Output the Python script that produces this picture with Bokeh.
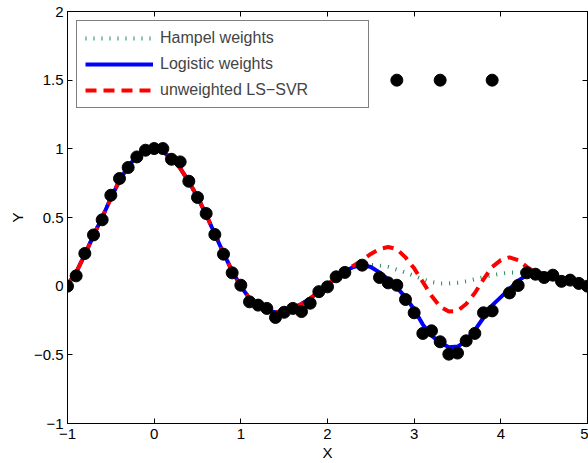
from bokeh.plotting import figure
from bokeh.models import LinearAxis, FixedTicker, Legend, LegendItem, CustomLabelingPolicy
from bokeh.embed import file_html
from bokeh.resources import INLINE

# ---------------- data ----------------
x_data = [-1.0, -0.9, -0.8, -0.7, -0.6, -0.5, -0.4, -0.3, -0.2, -0.1,
          0.0, 0.1, 0.2, 0.3, 0.4, 0.5, 0.6, 0.7, 0.8, 0.9,
          1.0, 1.1, 1.2, 1.3, 1.4, 1.5, 1.6, 1.7, 1.8, 1.9,
          2.0, 2.1, 2.2, 2.4, 2.6, 2.7, 2.8, 2.9,
          3.0, 3.1, 3.2, 3.3, 3.4, 3.5, 3.6, 3.7, 3.8, 3.9,
          4.1, 4.2, 4.3, 4.4, 4.5, 4.6, 4.7, 4.8, 4.9, 5.0]
y_data = [0.00, 0.075, 0.238, 0.373, 0.483, 0.662, 0.784, 0.864, 0.941, 0.990,
          1.002, 1.002, 0.924, 0.905, 0.764, 0.646, 0.529, 0.376, 0.233, 0.097,
          0.007, -0.114, -0.138, -0.162, -0.228, -0.19, -0.162, -0.185, -0.124, -0.04,
          -0.005, 0.068, 0.10, 0.153, 0.063, 0.024, 0.007, -0.097,
          -0.194, -0.344, -0.325, -0.405, -0.495, -0.487, -0.398, -0.344, -0.194, -0.18,
          -0.049, 0.005, 0.097, 0.087, 0.063, 0.08, 0.035, 0.044, 0.02, 0.0]

x_outliers = [2.8, 3.3, 3.9]
y_outliers = [1.5, 1.5, 1.5]

x_fit = [-1.0, -0.9, -0.8, -0.7, -0.6, -0.5, -0.4, -0.3, -0.2, -0.1,
         0.0, 0.1, 0.2, 0.3, 0.4, 0.5, 0.6, 0.7, 0.8, 0.9,
         1.0, 1.1, 1.2, 1.3, 1.4, 1.5, 1.6, 1.7, 1.8, 1.9,
         2.0, 2.1, 2.2, 2.3, 2.4, 2.5, 2.6, 2.7, 2.8, 2.9,
         3.0, 3.1, 3.2, 3.3, 3.4, 3.5, 3.6, 3.7, 3.8, 3.9,
         4.0, 4.1, 4.2, 4.3, 4.4, 4.5, 4.6, 4.7, 4.8, 4.9, 5.0]

y_logistic = [0.01, 0.10, 0.23, 0.37, 0.50, 0.64, 0.77, 0.87, 0.95, 0.99,
              1.00, 0.98, 0.93, 0.86, 0.76, 0.65, 0.52, 0.38, 0.24, 0.11,
              0.00, -0.09, -0.15, -0.18, -0.19, -0.18, -0.16, -0.13, -0.09, -0.04,
              0.01, 0.06, 0.11, 0.14, 0.155, 0.14, 0.10, 0.05, -0.01, -0.08,
              -0.17, -0.28, -0.36, -0.41, -0.445, -0.44, -0.40, -0.32, -0.23, -0.14,
              -0.08, -0.02, 0.04, 0.08, 0.095, 0.09, 0.075, 0.055, 0.04, 0.02, 0.00]

y_hampel = [0.01, 0.10, 0.23, 0.37, 0.50, 0.64, 0.77, 0.87, 0.95, 0.99,
            1.00, 0.98, 0.93, 0.86, 0.76, 0.65, 0.52, 0.38, 0.24, 0.11,
            0.00, -0.09, -0.15, -0.18, -0.19, -0.18, -0.16, -0.13, -0.09, -0.04,
            0.01, 0.06, 0.11, 0.14, 0.16, 0.155, 0.15, 0.14, 0.12, 0.10,
            0.075, 0.05, 0.03, 0.02, 0.02, 0.025, 0.035, 0.05, 0.065, 0.08,
            0.09, 0.10, 0.10, 0.10, 0.095, 0.09, 0.075, 0.055, 0.04, 0.02, 0.00]

y_unweighted = [0.01, 0.10, 0.23, 0.37, 0.50, 0.64, 0.77, 0.87, 0.95, 0.99,
                1.00, 0.98, 0.93, 0.86, 0.76, 0.65, 0.52, 0.38, 0.24, 0.11,
                0.00, -0.09, -0.15, -0.18, -0.19, -0.18, -0.16, -0.13, -0.09, -0.04,
                0.01, 0.06, 0.11, 0.15, 0.19, 0.235, 0.27, 0.285, 0.27, 0.21,
                0.13, 0.03, -0.07, -0.15, -0.185, -0.18, -0.13, -0.05, 0.05, 0.14,
                0.19, 0.21, 0.19, 0.14, 0.10, 0.09, 0.075, 0.055, 0.04, 0.02, 0.00]

series_names = ["Hampel weights", "Logistic weights", "unweighted LS\u2212SVR"]

x_ticks = [-1, 0, 1, 2, 3, 4, 5]
x_tick_labels = ["\u22121", "0", "1", "2", "3", "4", "5"]
y_ticks = [-1, -0.5, 0, 0.5, 1, 1.5, 2]
y_tick_labels = ["\u22121", "\u22120.5", "0", "0.5", "1", "1.5", "2"]

FONT = "Liberation Sans"

# ---------------- figure ----------------
p = figure(width=588, height=463, x_range=(-1, 5), y_range=(-1, 2),
           output_backend="svg", toolbar_location=None,
           min_border_left=67, min_border_right=1,
           min_border_top=11, min_border_bottom=40)
p.grid.visible = False
p.outline_line_color = "black"
p.background_fill_color = "white"
p.border_fill_color = "white"

r_h = p.line(x_fit, y_hampel, line_color="#1e8c5a", line_width=4,
             line_dash="1 7", line_cap="butt")
r_l = p.line(x_fit, y_logistic, line_color="#0000ff", line_width=4)
r_u = p.line(x_fit, y_unweighted, line_color="#ff0000", line_width=4,
             line_dash="11 7", line_cap="butt")
p.scatter(x_data, y_data, size=12, fill_color="black", line_color="black")
p.scatter(x_outliers, y_outliers, size=12, fill_color="black", line_color="black")


def style_axis(ax, ticks, labels, show_labels):
    ax.ticker = FixedTicker(ticks=ticks)
    ax.major_tick_in = 5
    ax.major_tick_out = 0
    ax.minor_tick_in = 0
    ax.minor_tick_out = 0
    ax.axis_line_color = "black"
    ax.axis_line_width = 1
    ax.major_tick_line_color = "black"
    if show_labels:
        ax.major_label_overrides = {t: l for t, l in zip(ticks, labels)}
        ax.major_label_text_font = FONT
        ax.major_label_text_font_size = "15px"
        ax.major_label_text_color = "black"
        ax.axis_label_text_font = FONT
        ax.axis_label_text_font_size = "15px"
        ax.axis_label_text_font_style = "normal"
        ax.axis_label_text_color = "black"
    else:
        ax.major_label_text_font_size = "0px"
        ax.major_label_standoff = 0
        ax.major_label_policy = CustomLabelingPolicy(code="return new Set()")


xa = p.xaxis[0]
ya = p.yaxis[0]
style_axis(xa, x_ticks, x_tick_labels, True)
style_axis(ya, y_ticks, y_tick_labels, True)
xa.axis_label = "X"
ya.axis_label = "Y"
xa.major_label_standoff = 5
xa.axis_label_standoff = 2
ya.major_label_standoff = 4
ya.axis_label_standoff = 5

top = LinearAxis()
style_axis(top, x_ticks, x_tick_labels, False)
p.add_layout(top, "above")
right = LinearAxis()
style_axis(right, y_ticks, y_tick_labels, False)
p.add_layout(right, "right")

legend = Legend(items=[LegendItem(label=series_names[0], renderers=[r_h]),
                       LegendItem(label=series_names[1], renderers=[r_l]),
                       LegendItem(label=series_names[2], renderers=[r_u])],
                location="top_left", margin=9, padding=8,
                glyph_width=68, glyph_height=16, label_height=16,
                label_standoff=7, spacing=8, label_width=200,
                label_text_font=FONT, label_text_font_size="16px",
                border_line_color="black", border_line_width=1,
                background_fill_color="white", background_fill_alpha=1.0)
p.add_layout(legend)

open("out.html", "w").write(file_html(p, INLINE))
